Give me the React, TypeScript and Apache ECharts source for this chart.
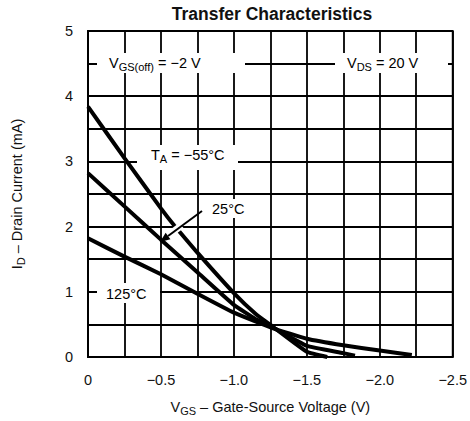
import React, { useEffect, useRef } from "react";
import * as echarts from "echarts";

// Gate-source voltage (V) and drain current (mA)
const VGS_M55 = [0, -0.25, -0.5, -0.59, -0.75, -1.0, -1.15, -1.27, -1.5, -1.64];
const ID_M55 = [3.84, 3.05, 2.28, 2.02, 1.6, 0.98, 0.66, 0.46, 0.08, 0.0];

const VGS_25 = [0, -0.25, -0.5, -0.75, -1.0, -1.15, -1.27, -1.5, -1.75, -1.83];
const ID_25 = [2.82, 2.31, 1.8, 1.3, 0.8, 0.58, 0.45, 0.17, 0.06, 0.02];

const VGS_125 = [0, -0.25, -0.5, -0.75, -1.0, -1.27, -1.5, -1.75, -2.0, -2.22];
const ID_125 = [1.82, 1.54, 1.27, 0.97, 0.68, 0.44, 0.28, 0.18, 0.1, 0.03];

const X_MIN = -2.5;
const X_MAX = 0;
const X_STEP = 0.25;
const Y_MIN = 0;
const Y_MAX = 5;
const Y_STEP = 0.5;

const TITLE = "Transfer Characteristics";

const zip = (xs: number[], ys: number[]) => xs.map((x, i) => [x, ys[i]]);

const FONT = "'Liberation Sans', Arial, Helvetica, sans-serif";
const FS = 14.5;

const richBase = {
  n: { fontSize: FS, fontFamily: FONT, color: "#111", lineHeight: 16, verticalAlign: "top" as const },
  s: {
    fontSize: 11,
    fontFamily: FONT,
    color: "#111",
    lineHeight: 12,
    padding: [6, 0, 0, 0],
    verticalAlign: "top" as const,
  },
};

export default function App() {
  const ref = useRef<HTMLDivElement>(null);

  useEffect(() => {
    if (!ref.current) return;
    const chart = echarts.init(ref.current, null, { renderer: "svg" });

    const lineSeries = (name: string, xs: number[], ys: number[]) => ({
      name,
      type: "line",
      data: zip(xs, ys),
      showSymbol: false,
      symbol: "none",
      smooth: 0.12,
      z: 3,
      lineStyle: { color: "#000", width: 4, cap: "butt" },
    });

    const textEl = (x: number, y: number, text: string) => ({
      type: "text",
      x,
      y,
      z: 60,
      style: {
        text,
        rich: richBase,
        verticalAlign: "middle",
        align: "left",
      },
    });

    const whiteRect = (x: number, y: number, w: number, h: number) => ({
      type: "rect",
      z: 50,
      shape: { x, y, width: w, height: h },
      style: { fill: "#fff" },
    });

    // arrow geometry
    const tail = [202, 211];
    const tip = [160, 242];
    const dx = tip[0] - tail[0];
    const dy = tip[1] - tail[1];
    const len = Math.hypot(dx, dy);
    const ux = dx / len;
    const uy = dy / len;
    const nx = -uy;
    const ny = ux;
    const hl = 10;
    const hw = 4;
    const bx = tip[0] - hl * ux;
    const by = tip[1] - hl * uy;
    const cross = [177.5, 228.5];

    chart.setOption({
      animation: false,
      grid: {
        left: 88,
        top: 31,
        right: 14,
        bottom: 64,
        show: true,
        borderColor: "#000",
        borderWidth: 1.8,
        backgroundColor: "#fff",
      },
      xAxis: {
        type: "value",
        min: X_MIN,
        max: X_MAX,
        interval: X_STEP,
        inverse: true,
        name: "{n|V}{s|GS}{n| \u2013 Gate-Source Voltage (V)}",
        nameLocation: "middle",
        nameGap: 42,
        nameTextStyle: { rich: richBase },
        axisLine: { show: true, lineStyle: { color: "#000", width: 1.8 } },
        axisTick: { show: false },
        axisLabel: {
          margin: 15,
          fontSize: FS,
          fontFamily: FONT,
          color: "#111",
          formatter: (v: number) => {
            const r = v * 2;
            if (Math.abs(r - Math.round(r)) > 1e-6) return "";
            if (Math.abs(v) < 1e-9) return "0";
            return "\u2212" + Math.abs(v).toFixed(1);
          },
        },
        splitLine: { show: true, lineStyle: { color: "#000", width: 1.8 } },
      },
      yAxis: {
        type: "value",
        min: Y_MIN,
        max: Y_MAX,
        interval: Y_STEP,
        name: "{n|I}{s|D}{n| \u2013 Drain Current (mA)}",
        nameLocation: "middle",
        nameGap: 63,
        nameRotate: 90,
        nameTextStyle: { rich: richBase },
        axisLine: { show: true, lineStyle: { color: "#000", width: 1.8 } },
        axisTick: { show: false },
        axisLabel: {
          margin: 15,
          fontSize: FS,
          fontFamily: FONT,
          color: "#111",
          formatter: (v: number) => (Math.abs(v - Math.round(v)) > 1e-6 ? "" : String(Math.round(v))),
        },
        splitLine: { show: true, lineStyle: { color: "#000", width: 1.8 } },
      },
      series: [
        lineSeries("-55", VGS_M55, ID_M55),
        lineSeries("25", VGS_25, ID_25),
        lineSeries("125", VGS_125, ID_125),
      ],
      graphic: [
        {
          type: "text",
          x: 272,
          y: 14,
          z: 60,
          style: {
            text: TITLE,
            fontSize: 17.5,
            fontWeight: "bold",
            fontFamily: FONT,
            fill: "#111",
            align: "center",
            verticalAlign: "middle",
          },
        },
        whiteRect(97, 53, 148, 20),
        whiteRect(335, 53, 113, 20),
        whiteRect(137, 145, 101, 25),
        whiteRect(205, 199, 47, 19),
        whiteRect(97, 283, 63, 20),
        textEl(109, 63, "{n|V}{s|GS(off)}{n| = \u22122 V}"),
        textEl(347, 63, "{n|V}{s|DS}{n| = 20 V}"),
        textEl(151, 155, "{n|T}{s|A}{n| = \u221255\u00b0C}"),
        textEl(212, 209, "{n|25\u00b0C}"),
        textEl(106, 294, "{n|125\u00b0C}"),
        {
          type: "line",
          z: 55,
          shape: {
            x1: cross[0] - 5 * ux,
            y1: cross[1] - 5 * uy,
            x2: cross[0] + 5 * ux,
            y2: cross[1] + 5 * uy,
          },
          style: { stroke: "#fff", lineWidth: 7 },
        },
        {
          type: "line",
          z: 60,
          shape: { x1: tail[0], y1: tail[1], x2: bx, y2: by },
          style: { stroke: "#000", lineWidth: 2 },
        },
        {
          type: "polygon",
          z: 60,
          shape: {
            points: [
              [tip[0], tip[1]],
              [bx + hw * nx, by + hw * ny],
              [bx - hw * nx, by - hw * ny],
            ],
          },
          style: { fill: "#000" },
        },
      ],
    });

    return () => chart.dispose();
  }, []);

  return (
    <div
      ref={ref}
      style={{ position: "absolute", left: 0, top: 0, width: 470, height: 421, background: "#fff" }}
    />
  );
}
